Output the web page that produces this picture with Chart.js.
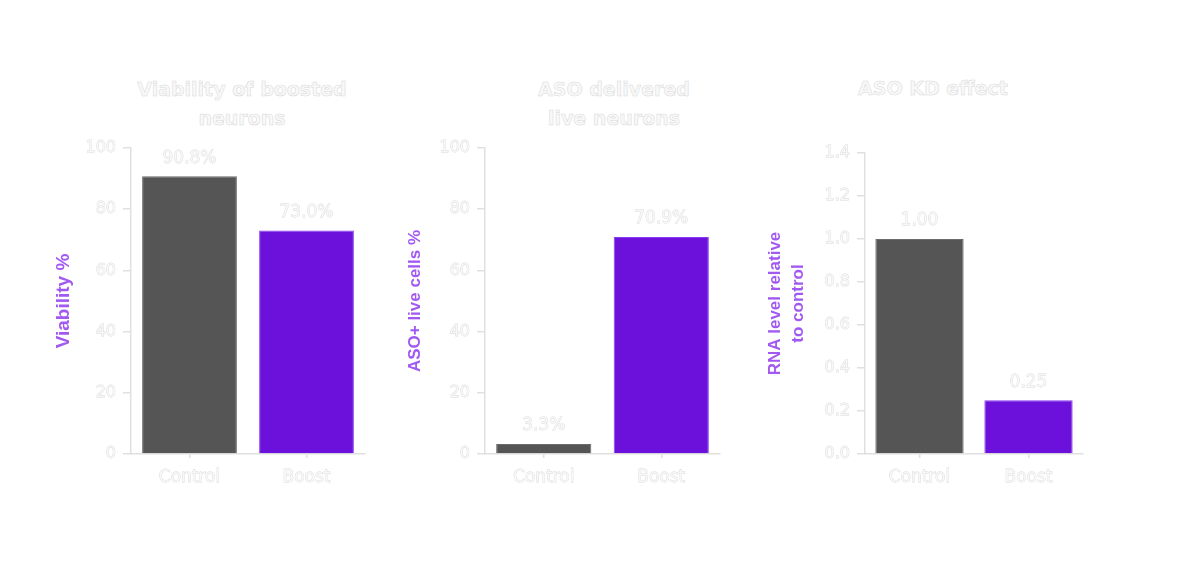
<!DOCTYPE html>
<html>
<head>
<meta charset="utf-8">
<script src="https://cdn.jsdelivr.net/npm/chart.js@4.4.1/dist/chart.umd.min.js"></script>
<style>
  html, body { margin: 0; padding: 0; background: #ffffff; }
  body { width: 1178px; height: 564px; position: relative; overflow: hidden; }
  canvas { position: absolute; top: 0; }
  .title {
    position: absolute;
    font-family: "DejaVu Sans", sans-serif;
    font-weight: bold;
    font-size: 19px;
    line-height: 29px;
    text-align: center;
    color: #f8f8f8;
    -webkit-text-stroke: 0.5px #d8d8d8;
    white-space: nowrap;
  }
</style>
</head>
<body>
<div class="title" style="left:92px; width:300px; top:75px;">Viability of boosted<br>neurons</div>
<div class="title" style="left:464px; width:300px; top:75px;">ASO delivered<br>live neurons</div>
<div class="title" style="left:783px; width:300px; top:74px;">ASO KD effect</div>

<canvas id="viabilityChart" width="345" height="494" style="left:30px;"></canvas>
<canvas id="deliveryChart" width="340" height="494" style="left:390px;"></canvas>
<canvas id="knockdownChart" width="343" height="494" style="left:750px;"></canvas>

<script>
// data
const categories = ['Control', 'Boost'];
const viability = [90.8, 73.0];
const asoPositive = [3.3, 70.9];
const rnaLevel = [1.00, 0.25];
const percentTicks = [0, 20, 40, 60, 80, 100];
const rnaTicks = [0, 0.2, 0.4, 0.6, 0.8, 1.0, 1.2, 1.4];

const barColors = ['#555555', '#6c10dc'];
const barBorders = ['#6a6a6a', '#8a3cf0'];
const lightText = '#f8f8f8';
const textStroke = '#d8d8d8';
const axisColor = '#e0e0e0';
const purpleTitle = '#a259f2';
const textFont = 'DejaVu Sans';

// labels above each bar
const valueLabels = {
  id: 'valueLabels',
  afterDatasetsDraw(chart, args, opts) {
    const ctx = chart.ctx;
    const meta = chart.getDatasetMeta(0);
    const values = chart.data.datasets[0].data;
    ctx.save();
    ctx.font = '17px "' + textFont + '"';
    ctx.textAlign = 'center';
    ctx.textBaseline = 'middle';
    ctx.lineWidth = 0.8;
    ctx.strokeStyle = textStroke;
    ctx.fillStyle = lightText;
    meta.data.forEach((bar, i) => {
      const txt = opts.format(values[i]);
      ctx.strokeText(txt, bar.x, bar.y - 18);
      ctx.fillText(txt, bar.x, bar.y - 18);
    });
    ctx.restore();
  }
};

function makeChart(id, values, tickValues, tickFmt, labelFmt, yTitle, yWidth, titleOpts, topPad) {
  const ctx = document.getElementById(id).getContext('2d');
  return new Chart(ctx, {
    type: 'bar',
    data: {
      labels: categories,
      datasets: [{
        data: values,
        backgroundColor: barColors,
        borderColor: barBorders,
        borderWidth: 1,
        barPercentage: 0.81,
        categoryPercentage: 1.0
      }]
    },
    plugins: [valueLabels],
    options: {
      responsive: false,
      animation: false,
      layout: { padding: { top: topPad, right: 10, left: 0, bottom: 0 } },
      plugins: {
        legend: { display: false },
        tooltip: { enabled: false },
        valueLabels: { format: labelFmt }
      },
      scales: {
        x: {
          grid: { display: true, drawOnChartArea: false, offset: false, tickLength: 4, color: axisColor, lineWidth: 1.5 },
          border: { color: axisColor, width: 1.5 },
          ticks: {
            color: lightText, textStrokeColor: textStroke, textStrokeWidth: 0.8,
            font: { family: textFont, size: 17 }, padding: 9, maxRotation: 0
          },
          afterFit(scale) { scale.height = 40; }
        },
        y: {
          min: tickValues[0],
          max: tickValues[tickValues.length - 1],
          afterBuildTicks(scale) { scale.ticks = tickValues.map(v => ({ value: v })); },
          grid: { display: true, drawOnChartArea: false, tickLength: 8, color: axisColor, lineWidth: 1.5 },
          border: { color: axisColor, width: 1.5 },
          ticks: {
            color: lightText, textStrokeColor: textStroke, textStrokeWidth: 0.8,
            font: { family: textFont, size: 16 }, padding: 7,
            callback: tickFmt
          },
          title: Object.assign({
            display: true,
            text: yTitle,
            color: purpleTitle,
            font: { family: 'Liberation Sans', size: 17, weight: 'bold', lineHeight: 1.2 }
          }, titleOpts),
          afterFit(scale) { scale.width = yWidth; }
        }
      }
    }
  });
}

makeChart('viabilityChart', viability, percentTicks, v => v,
  v => v.toFixed(1) + '%', 'Viability %', 101,
  { padding: { top: 22.5, bottom: 0 }, font: { family: 'Liberation Sans', size: 19, weight: 'bold', lineHeight: 1.2 } }, 148);

makeChart('deliveryChart', asoPositive, percentTicks, v => v,
  v => v.toFixed(1) + '%', 'ASO+ live cells %', 95, { padding: { top: 15, bottom: 0 } }, 148);

makeChart('knockdownChart', rnaLevel, rnaTicks, v => v.toFixed(1),
  v => v.toFixed(2), ['RNA level relative', 'to control'], 115,
  { padding: { top: 13.5, bottom: 0 }, font: { family: 'Liberation Sans', size: 17, weight: 'bold', lineHeight: 1.35 } }, 153);
</script>
</body>
</html>
